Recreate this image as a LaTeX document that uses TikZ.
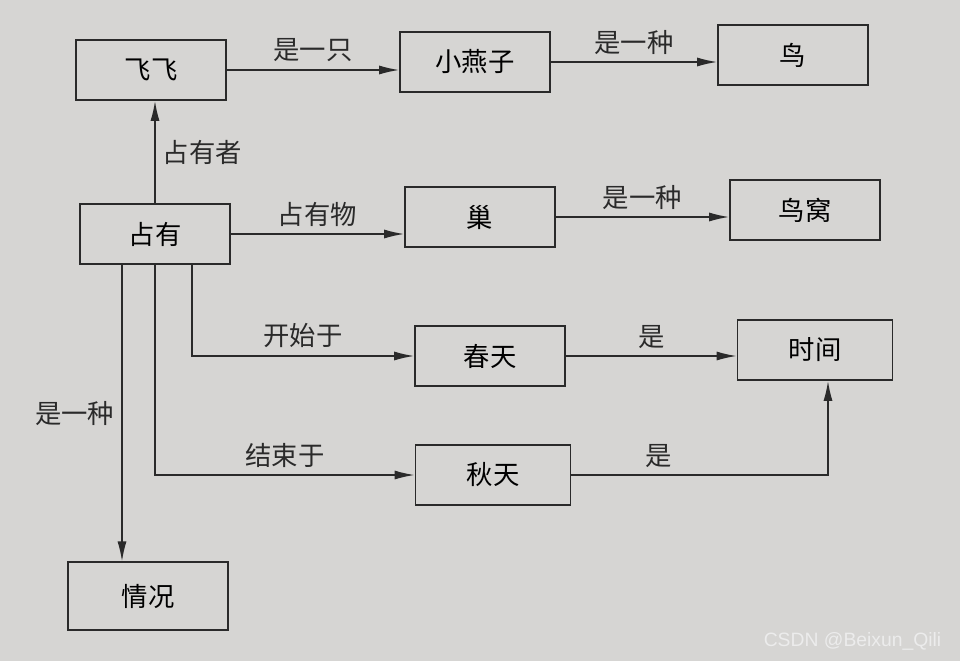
\documentclass[tikz,border=0pt]{standalone}
\usepackage{fontspec}
\newfontfamily\cjk{Noto Sans CJK SC}
\setsansfont{Liberation Sans}
\definecolor{paper}{RGB}{214,213,211}
\definecolor{inkgray}{RGB}{42,42,42}
\definecolor{markgray}{RGB}{236,236,236}
\usepackage{tikz}
\usetikzlibrary{arrows.meta,positioning,calc,backgrounds}
\tikzset{
  cbox/.style={draw=inkgray,line width=0.9pt,minimum width=3cm,minimum height=1.2cm,inner sep=2pt},
  rel/.style={-{Latex[length=4mm,width=1.8mm]},draw=inkgray,line width=0.9pt},
  lbl/.style={inner sep=4pt,text=inkgray},
}

\begin{document}
\begin{tikzpicture}[font=\cjk\fontsize{15}{18}\selectfont]
        % page
        \fill[paper] (0,0) rectangle (19.2,-13.22);
        \useasboundingbox (0,0) rectangle (19.2,-13.22);
        % --- tugunlar ---
        \node[cbox] (feifei)    at (3.02,-1.40) {飞飞};
        \node[cbox] (yanzi)     at (9.50,-1.24) {小燕子};
        \node[cbox] (niao)      at (15.86,-1.10) {鸟};
        \node[cbox] (zhanyou)   at (3.10,-4.68) {占有};
        \node[cbox] (chao)      at (9.60,-4.34) {巢};
        \node[cbox] (niaowo)    at (16.10,-4.20) {鸟窝};
        \node[cbox] (chuntian)  at (9.80,-7.12) {春天};
        \node[cbox,minimum width=3.1cm] (shijian) at (16.30,-7.00) {时间};
        \node[cbox,minimum width=3.1cm] (qiutian) at (9.86,-9.50) {秋天};
        \node[cbox,minimum width=3.2cm,minimum height=1.35cm] (qingkuang) at (2.96,-11.92) {情况};
        % yuqori qator
        \draw[rel] (feifei.east) -- (feifei.east -| yanzi.west)
          node[lbl,midway,above]{是一只};
        \draw[rel] (yanzi.east) -- (yanzi.east -| niao.west)
          node[lbl,midway,above]{是一种};
        \draw[rel] (zhanyou.north) -- (zhanyou.north |- feifei.south)
          node[lbl,midway,right]{占有者};
        % ikkinchi qator
        \draw[rel] (zhanyou.east) -- (zhanyou.east -| chao.west)
          node[lbl,midway,above]{占有物};
        \draw[rel] (chao.east) -- (chao.east -| niaowo.west)
          node[lbl,midway,above]{是一种};
        % pastki tarmoqlar
        \draw[rel] ([xshift=0.74cm]zhanyou.south) |- (chuntian.west)
          node[lbl,pos=0.75,above]{开始于};
        \draw[rel] (zhanyou.south) |- (qiutian.west)
          node[lbl,pos=0.75,above]{结束于};
        \draw[rel] ([xshift=-0.66cm]zhanyou.south) -- ([xshift=-0.66cm]zhanyou.south |- qingkuang.north)
          node[lbl,midway,left]{是一种};
        % vaqt
        \draw[rel] (chuntian.east) -- (chuntian.east -| shijian.west)
          node[lbl,midway,above]{是};
        \draw[rel] (qiutian.east) -| ([xshift=0.26cm]shijian.south)
          node[lbl,pos=0.17,above]{是};
        % watermark
        \node[anchor=east,text=markgray,font=\sffamily\fontsize{11}{13}\selectfont] (mark) at (18.95,-12.82) {CSDN @Beixun\_Qili};
      \end{tikzpicture}
\end{document}
